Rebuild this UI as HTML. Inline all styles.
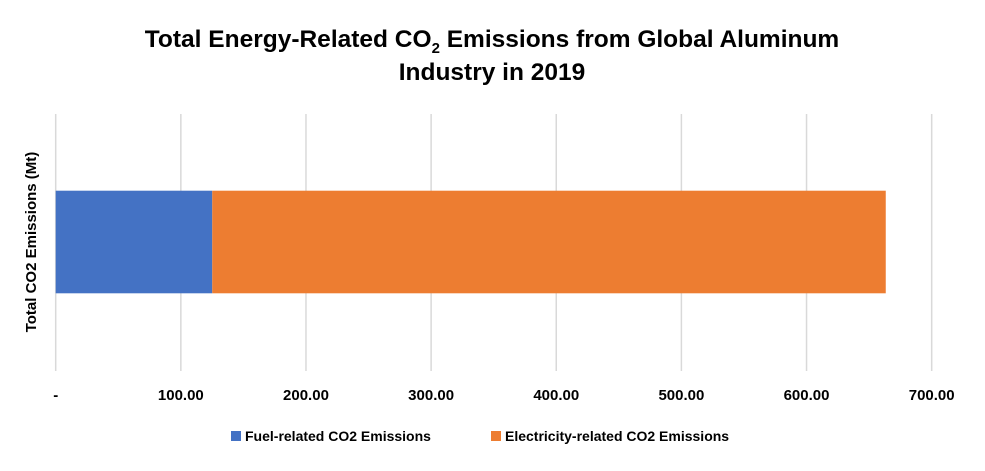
<!DOCTYPE html>
<html><head><meta charset="utf-8"><style>
body{margin:0;background:#fff;font-family:"Liberation Sans",Arial,sans-serif;}
svg text{font-family:"Liberation Sans",Arial,sans-serif;font-weight:bold;}
</style></head><body>
<svg id="chart" width="985" height="466" xmlns="http://www.w3.org/2000/svg">
<text x="492" y="47" text-anchor="middle" font-size="24.5" fill="#000">Total Energy-Related CO<tspan font-size="15" dy="6">2</tspan><tspan dy="-6"> Emissions from Global Aluminum</tspan></text>
<text x="492" y="80" text-anchor="middle" font-size="24.5" fill="#000">Industry in 2019</text>
<text transform="translate(36,242) rotate(-90)" text-anchor="middle" font-size="15" fill="#000">Total CO2 Emissions (Mt)</text>
<g id="grid"></g><g id="bars"></g><g id="ticks"></g>
<g>
<rect x="231" y="431" width="10" height="10" fill="#4472c4"/>
<text x="245" y="441" font-size="14" fill="#000">Fuel-related CO2 Emissions</text>
<rect x="491" y="431" width="10" height="10" fill="#ed7d31"/>
<text x="505" y="441" font-size="14" fill="#000">Electricity-related CO2 Emissions</text>
</g>
</svg>
<script>
const categories=["Total CO2 Emissions (Mt)"];
const fuelValues=[125.1];
const electricityValues=[538.2];
const tickValues=[0,100,200,300,400,500,600,700];
const tickLabels=["-","100.00","200.00","300.00","400.00","500.00","600.00","700.00"];
const NS="http://www.w3.org/2000/svg";
const x0=55.7,pxPer=1.2514,plotTop=114,plotBottom=371;
const xs=v=>x0+v*pxPer;
function mk(t,a,p){const e=document.createElementNS(NS,t);for(const k in a)e.setAttribute(k,a[k]);p.appendChild(e);return e;}
const grid=document.getElementById('grid'),bars=document.getElementById('bars'),ticks=document.getElementById('ticks');
tickValues.forEach((v,i)=>{
 const l=mk('line',{x1:xs(v),x2:xs(v),y1:plotTop,y2:plotBottom,stroke:'#d9d9d9','stroke-width':1.5},grid);
 
 
 const t=mk('text',{x:xs(v),y:400,'text-anchor':'middle','font-size':15,fill:'#000'},ticks);
 t.textContent=tickLabels[i];
 
 
});
categories.forEach((c,i)=>{
 const y=190.7,h=102.6;
 const f=mk('rect',{x:xs(0),y:y,width:xs(fuelValues[i])-xs(0),height:h,fill:'#4472c4'},bars);
 
 
 const e=mk('rect',{x:xs(fuelValues[i]),y:y,width:xs(fuelValues[i]+electricityValues[i])-xs(fuelValues[i]),height:h,fill:'#ed7d31'},bars);
 
 
});
</script>
</body></html>
